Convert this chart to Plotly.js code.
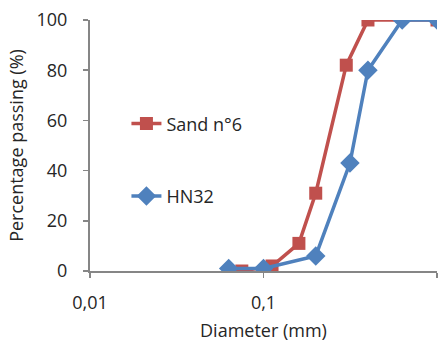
<!DOCTYPE html>
<html>
<head>
<meta charset="utf-8">
<script src="https://cdn.plot.ly/plotly-3.0.1.min.js"></script>
<style>html,body{margin:0;padding:0;background:#fff;}#chart{width:441px;height:345px;}</style>
</head>
<body>
<div id="chart"></div>
<script>
const sandDiameter = [0.075, 0.112, 0.16, 0.2, 0.3, 0.4, 1];
const sandPassing = [0, 2, 11, 31, 82, 100, 100];
const hnDiameter = [0.063, 0.1, 0.2, 0.315, 0.4, 0.63, 1];
const hnPassing = [1, 1, 6, 43, 80, 100, 100];
const xTickVals = [0.01, 0.1, 1];
const xTickText = ["0,01", "0,1", "1"];
const yTickVals = [0, 20, 40, 60, 80, 100];

const font = "Open Sans, sans-serif";
const axisColor = "#868686";
const textColor = "#262626";

const traces = [
  {x: sandDiameter, y: sandPassing, name: "Sand n°6", type: "scatter", mode: "lines+markers",
   legendgroup: "a",
   line: {color: "#C0504D", width: 3.5},
   marker: {symbol: "square", size: 13, color: "#C0504D"}},
  {x: hnDiameter, y: hnPassing, name: "HN32", type: "scatter", mode: "lines+markers",
   legendgroup: "b",
   line: {color: "#4F81BD", width: 3.5},
   marker: {symbol: "diamond", size: 15, color: "#4F81BD"}}
];

const layout = {
  width: 441, height: 345,
  margin: {l: 90, r: 4, t: 20, b: 74},
  paper_bgcolor: "#fff", plot_bgcolor: "#fff",
  font: {family: font, size: 18, color: textColor},
  showlegend: true,
  legend: {x: 0.105, y: 0.66, xanchor: "left", yanchor: "top", bgcolor: "rgba(0,0,0,0)",
           font: {family: font, size: 18, color: textColor}, traceorder: "grouped", tracegroupgap: 46},
  xaxis: {type: "log", range: [-2, 0], tickvals: xTickVals, ticktext: xTickText,
          showgrid: false, zeroline: false, showline: true, linecolor: axisColor, linewidth: 2,
          ticks: "outside", ticklen: 5, tickcolor: axisColor, tickwidth: 1.5, ticklabelstandoff: 9,
          tickfont: {family: font, size: 18, color: textColor},
          title: {text: "Diameter (mm)", font: {family: font, size: 18, color: textColor}, standoff: 12}},
  yaxis: {range: [0, 100], tickvals: yTickVals, showgrid: false, zeroline: false,
          showline: true, linecolor: axisColor, linewidth: 2,
          ticks: "outside", ticklen: 5, tickcolor: axisColor, tickwidth: 1.5, ticklabelstandoff: 12,
          tickfont: {family: font, size: 18, color: textColor},
          title: {text: "Percentage passing (%)", font: {family: font, size: 18, color: textColor}, standoff: 8}}
};

Plotly.newPlot("chart", traces, layout, {displayModeBar: false, staticPlot: true});
</script>
</body>
</html>
